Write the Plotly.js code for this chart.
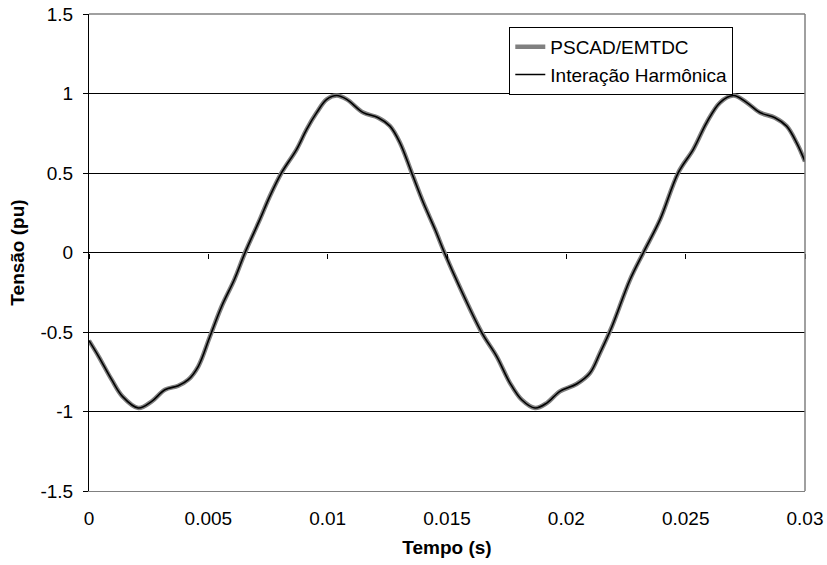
<!DOCTYPE html>
<html>
<head>
<meta charset="utf-8">
<script src="https://cdn.plot.ly/plotly-3.0.1.min.js"></script>
<style>html,body{margin:0;padding:0;background:#fff;}#chart{width:827px;height:565px;}</style>
</head>
<body>
<div id="chart"></div>
<script>
// Time (s)
const tempo = [0, 0.0004, 0.00095, 0.0014, 0.00207, 0.00263, 0.00318, 0.00374, 0.00416, 0.00458,
  0.00507, 0.00556, 0.00609, 0.00654, 0.00716, 0.00758, 0.00807, 0.0087, 0.00912, 0.00954,
  0.00996, 0.01038, 0.0108, 0.01149, 0.01212, 0.01261, 0.01303, 0.01352, 0.01401, 0.0145,
  0.01489, 0.01548, 0.01645, 0.01708, 0.01764, 0.01813, 0.01869, 0.01918, 0.01973, 0.02043,
  0.02099, 0.02141, 0.0219, 0.02267, 0.02323, 0.02393, 0.02469, 0.02532, 0.02588, 0.02644,
  0.027, 0.02756, 0.02811, 0.02874, 0.02923, 0.02965, 0.03];
// PSCAD/EMTDC (pu)
const pscad = [-0.554, -0.653, -0.80, -0.905, -0.978, -0.936, -0.863, -0.838, -0.80, -0.716,
  -0.527, -0.338, -0.170, 0.0, 0.208, 0.355, 0.502, 0.649, 0.775, 0.880,
  0.963, 0.987, 0.963, 0.880, 0.848, 0.795, 0.690, 0.502, 0.313, 0.145,
  0.0, -0.20, -0.502, -0.653, -0.821, -0.926, -0.978, -0.947, -0.873, -0.827,
  -0.758, -0.632, -0.47, -0.17, 0.0, 0.208, 0.502, 0.649, 0.817, 0.943,
  0.987, 0.943, 0.880, 0.848, 0.795, 0.690, 0.573];
// Interação Harmônica (pu)
const harmonica = [-0.554, -0.653, -0.80, -0.905, -0.978, -0.936, -0.863, -0.838, -0.80, -0.716,
  -0.527, -0.338, -0.170, 0.0, 0.208, 0.355, 0.502, 0.649, 0.775, 0.880,
  0.963, 0.987, 0.963, 0.880, 0.848, 0.795, 0.690, 0.502, 0.313, 0.145,
  0.0, -0.20, -0.502, -0.653, -0.821, -0.926, -0.978, -0.947, -0.873, -0.827,
  -0.758, -0.632, -0.47, -0.17, 0.0, 0.208, 0.502, 0.649, 0.817, 0.943,
  0.987, 0.943, 0.880, 0.848, 0.795, 0.690, 0.573];
const xTicks = [0, 0.005, 0.01, 0.015, 0.02, 0.025, 0.03];
const xTickText = ['0', '0.005', '0.01', '0.015', '0.02', '0.025', '0.03'];
const yTicks = [-1.5, -1, -0.5, 0, 0.5, 1, 1.5];
const yTickText = ['-1.5', '-1', '-0.5', '0', '0.5', '1', '1.5'];

const FONT = 'Liberation Sans, Arial, sans-serif';
const FS = 19;

const traces = [
  {x: tempo, y: pscad, name: 'PSCAD/EMTDC', type: 'scatter', mode: 'lines',
   line: {color: '#808080', width: 4.5, shape: 'spline', smoothing: 1}, xaxis: 'x', yaxis: 'y'},
  {x: tempo, y: harmonica, name: 'Interação Harmônica', type: 'scatter', mode: 'lines',
   line: {color: '#000000', width: 1.6, shape: 'spline', smoothing: 1}, xaxis: 'x2', yaxis: 'y'}
];

const layout = {
  width: 827, height: 565,
  margin: {l: 89, r: 22, t: 14, b: 74},
  paper_bgcolor: '#fff', plot_bgcolor: '#fff',
  font: {family: FONT, size: FS, color: '#000'},
  showlegend: true,
  legend: {x: 0.587, y: 0.973, xanchor: 'left', yanchor: 'top',
    bordercolor: '#000', borderwidth: 1, bgcolor: '#fff',
    font: {family: FONT, size: FS, color: '#000'},
    itemwidth: 30, tracegroupgap: 0},
  xaxis: {range: [0, 0.03], tickmode: 'array', tickvals: xTicks, ticktext: xTickText,
    showgrid: false, zeroline: false, showline: true, linecolor: '#808080', linewidth: 1,
    ticks: '', ticklabelstandoff: 10,
    title: {text: '<b>Tempo (s)</b>', font: {family: FONT, size: FS}, standoff: 12}},
  xaxis2: {overlaying: 'x', matches: 'x', anchor: 'free', position: 0.5,
    tickmode: 'array', tickvals: xTicks, showticklabels: false,
    ticks: 'outside', ticklen: 5, tickcolor: '#000', tickwidth: 1,
    showgrid: false, zeroline: false, showline: false},
  yaxis: {range: [-1.5, 1.5], tickmode: 'array', tickvals: yTicks, ticktext: yTickText,
    showgrid: true, gridcolor: '#000', gridwidth: 1,
    zeroline: false,
    showline: true, linecolor: '#000', linewidth: 1,
    ticks: 'outside', ticklen: 5, tickcolor: '#000', ticklabelstandoff: 6,
    title: {text: '<b>Tensão (pu)</b>', font: {family: FONT, size: FS}, standoff: 10}},
  shapes: [
    {type: 'line', xref: 'paper', yref: 'paper', x0: 0, x1: 1, y0: 1, y1: 1,
     line: {color: '#808080', width: 1.5}},
    {type: 'line', xref: 'paper', yref: 'paper', x0: 1, x1: 1, y0: 0, y1: 1,
     line: {color: '#808080', width: 1.5}}
  ]
};

Plotly.newPlot('chart', traces, layout, {displayModeBar: false, staticPlot: true});
</script>
</body>
</html>
